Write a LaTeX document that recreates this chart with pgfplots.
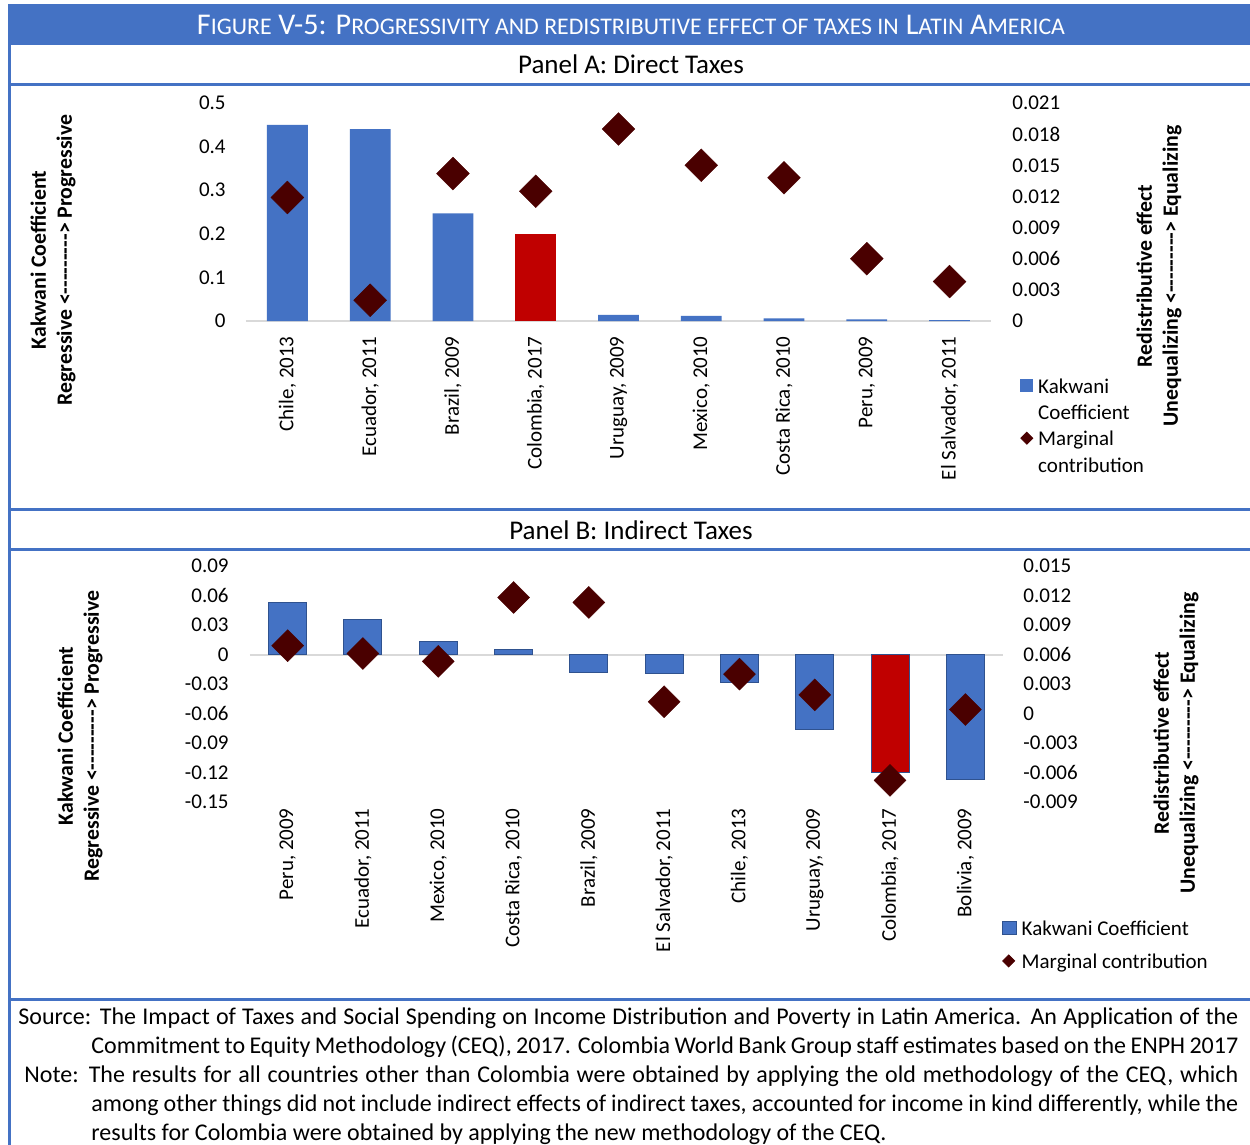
\documentclass[border=0pt]{standalone}
\usepackage{pgfplots}
\pgfplotsset{compat=1.18}
\usepackage{fontspec}
\setmainfont{Carlito}

\definecolor{kblue}{HTML}{4472C4}
\definecolor{kred}{HTML}{C00000}
\definecolor{kdiam}{HTML}{4A0000}
\definecolor{kedge}{HTML}{2F528F}
\definecolor{zeroline}{HTML}{D9D9D9}

\newcommand\tickfont{\fontsize{10.5}{13}\selectfont}
\newcommand\labfont{\fontsize{10.9}{13}\selectfont}
\newcommand\notefont{\fontsize{12}{14.5}\selectfont}
\newcommand\smc[1]{{\fontsize{8.7}{10}\selectfont #1}}
\newcommand\dashes{<{-}{-}{-}{-}{-}{-}{-}{-}{-}>}

\pgfplotsset{
  panel/.style={
    scale only axis, anchor=south west, clip=false,
    axis line style={draw=none}, major tick length=0pt,
    scaled y ticks=false,
    ticklabel style={font=\tickfont},
    yticklabel style={inner sep=0pt},
  },
  diamonds/.style={only marks, mark=square*, mark size=#1,
    mark options={rotate=45, fill=kdiam, draw=kdiam, line width=0.2pt}},
}

\begin{document}
\begin{tikzpicture}
% page coordinates: 1 unit = one pixel of a 1250 x 1145 page, y running down
\begin{scope}[x=0.5pt,y=-0.5pt]
\useasboundingbox (0,0) rectangle (1250,1145);
\fill[white] (0,0) rectangle (1250,1145);

% heading bar
\fill[kblue] (8,4) rectangle (1250,45);
\node[text=white, inner sep=0pt] at (631,25)
  {\resizebox{434pt}{!}{\fontsize{11}{13}\selectfont F\smc{IGURE} V-5: P\smc{ROGRESSIVITY AND REDISTRIBUTIVE EFFECT OF TAXES IN} L\smc{ATIN} A\smc{MERICA}}};

% frame rules
\draw[kblue, line width=1.5pt] (9.5,45) -- (9.5,1145);
\foreach \yy in {85,509,549,999}
  \draw[kblue, line width=1.5pt] (9.5,\yy) -- (1250,\yy);

\node[font=\fontsize{13.5}{15}\selectfont, inner sep=0pt] at (631,64) {Panel A: Direct Taxes};
\node[font=\fontsize{13.5}{15}\selectfont, inner sep=0pt] at (631,530) {Panel B: Indirect Taxes};

% axis titles
\node[rotate=90, align=center, font=\bfseries\labfont] at (53,260)
  {Kakwani Coefficient\\Regressive \dashes{} Progressive};
\node[rotate=90, align=center, font=\bfseries\labfont] at (1159,276)
  {Redistributive effect\\Unequalizing \dashes{} Equalizing};
\node[rotate=90, align=center, font=\bfseries\labfont] at (80,736)
  {Kakwani Coefficient\\Regressive \dashes{} Progressive};
\node[rotate=90, align=center, font=\bfseries\labfont] at (1176,743)
  {Redistributive effect\\Unequalizing \dashes{} Equalizing};

% source and note
\begin{scope}[every node/.style={anchor=base west, inner sep=0pt, font=\notefont}]
\node at (18,1024) {\makebox[610pt][s]{Source: The Impact of Taxes and Social Spending on Income Distribution and Poverty in Latin America. An Application of the}};
\node at (91,1053) {\makebox[573.5pt][s]{Commitment to Equity Methodology (CEQ), 2017. Colombia World Bank Group staff estimates based on the ENPH 2017}};
\node at (24,1082) {\makebox[607pt][s]{Note: The results for all countries other than Colombia were obtained by applying the old methodology of the CEQ, which}};
\node at (91,1111) {\makebox[573.5pt][s]{among other things did not include indirect effects of indirect taxes, accounted for income in kind differently, while the}};
\node at (91,1140) {results for Colombia were obtained by applying the new methodology of the CEQ.};
\end{scope}
\end{scope}

% ---------------- Panel A: direct taxes ----------------
\begin{axis}[panel, at={(123pt,-160.5pt)}, width=372.5pt, height=109pt,
  xmin=-0.5, xmax=8.5, ymin=0, ymax=0.5,
  ytick={0,0.1,0.2,0.3,0.4,0.5}, yticklabels={0,0.1,0.2,0.3,0.4,0.5},
  yticklabel shift=10pt,
  xtick={0,1,2,3,4,5,6,7,8},
  xticklabels={{Chile, 2013},{Ecuador, 2011},{Brazil, 2009},{Colombia, 2017},{Uruguay, 2009},{Mexico, 2010},{Costa Rica, 2010},{Peru, 2009},{El Salvador, 2011}},
  xticklabel style={rotate=90, anchor=east, inner sep=0pt}, xticklabel shift=7.5pt,
  ybar, bar width=20.4pt, bar shift=0pt]
\draw[zeroline, line width=1pt] (axis cs:-0.5,0) -- (axis cs:8.5,0);
\addplot[fill=kblue, draw=none] coordinates
  {(0,0.450) (1,0.440) (2,0.247) (4,0.014) (5,0.012) (6,0.006) (7,0.004) (8,0.002)};
\addplot[fill=kred, draw=none] coordinates {(3,0.200)};
\end{axis}

\begin{axis}[panel, at={(123pt,-160.5pt)}, width=372.5pt, height=109pt,
  xmin=-0.5, xmax=8.5, ymin=0, ymax=0.021, xtick=\empty,
  ytick={0,0.003,0.006,0.009,0.012,0.015,0.018,0.021},
  yticklabels={0,0.003,0.006,0.009,0.012,0.015,0.018,0.021},
  yticklabel pos=right, yticklabel style={anchor=west}, yticklabel shift=10.5pt,
  legend cell align=left,
  legend style={at={(axis description cs:1.039,-0.245)}, anchor=north west,
    draw=none, fill=none, inner sep=0pt, font=\tickfont,
    nodes={inner sep=0pt}, column sep=2.5pt, row sep=2.6pt}]
\addlegendimage{legend image code/.code={\fill[kblue] (0pt,-3pt) rectangle (6pt,3pt);}}
\addlegendentry{\strut Kakwani}
\addlegendimage{empty legend}
\addlegendentry{\strut Coefficient}
\addlegendimage{legend image code/.code={\fill[kdiam] (3pt,3pt) -- (6pt,0pt) -- (3pt,-3pt) -- (0pt,0pt) -- cycle;}}
\addlegendentry{\strut Marginal}
\addlegendimage{empty legend}
\addlegendentry{\strut contribution}
\addplot[diamonds=5.8pt, forget plot] coordinates
  {(0,0.0119) (1,0.0020) (2,0.0142) (3,0.0125) (4,0.0185) (5,0.0150) (6,0.0138) (7,0.0060) (8,0.0038)};
\end{axis}

% ---------------- Panel B: indirect taxes ----------------
\begin{axis}[panel, at={(125pt,-401pt)}, width=376.5pt, height=118pt,
  xmin=-0.5, xmax=9.5, ymin=-0.15, ymax=0.09,
  ytick={-0.15,-0.12,-0.09,-0.06,-0.03,0,0.03,0.06,0.09},
  yticklabels={-0.15,-0.12,-0.09,-0.06,-0.03,0,0.03,0.06,0.09},
  yticklabel shift=10.5pt,
  xtick={0,1,2,3,4,5,6,7,8,9},
  xticklabels={{Peru, 2009},{Ecuador, 2011},{Mexico, 2010},{Costa Rica, 2010},{Brazil, 2009},{El Salvador, 2011},{Chile, 2013},{Uruguay, 2009},{Colombia, 2017},{Bolivia, 2009}},
  xticklabel style={rotate=90, anchor=east, inner sep=0pt}, xticklabel shift=3pt,
  ybar, bar width=19pt, bar shift=0pt]
\draw[zeroline, line width=1pt] (axis cs:-0.5,0) -- (axis cs:9.5,0);
\addplot[fill=kblue, draw=kedge, line width=0.5pt] coordinates
  {(0,0.053) (1,0.036) (2,0.013) (3,0.005) (4,-0.018) (5,-0.019) (6,-0.028) (7,-0.076) (9,-0.127)};
\addplot[fill=kred, draw=kedge, line width=0.5pt] coordinates {(8,-0.120)};
\end{axis}

\begin{axis}[panel, at={(125pt,-401pt)}, width=376.5pt, height=118pt,
  xmin=-0.5, xmax=9.5, ymin=-0.009, ymax=0.015, xtick=\empty,
  ytick={-0.009,-0.006,-0.003,0,0.003,0.006,0.009,0.012,0.015},
  yticklabels={-0.009,-0.006,-0.003,0,0.003,0.006,0.009,0.012,0.015},
  yticklabel pos=right, yticklabel style={anchor=west}, yticklabel shift=10pt,
  legend cell align=left,
  legend style={at={(axis description cs:0.998,-0.487)}, anchor=north west,
    draw=none, fill=none, inner sep=0pt, font=\tickfont,
    nodes={inner sep=0pt}, column sep=2.5pt, row sep=5.9pt}]
\addlegendimage{legend image code/.code={\fill[kblue] (0pt,-3.2pt) rectangle (7pt,3.2pt); \draw[kedge, line width=0.4pt] (0pt,-3.2pt) rectangle (7pt,3.2pt);}}
\addlegendentry{\strut Kakwani Coefficient}
\addlegendimage{legend image code/.code={\fill[kdiam] (3.2pt,3pt) -- (6.2pt,0pt) -- (3.2pt,-3pt) -- (0.2pt,0pt) -- cycle;}}
\addlegendentry{\strut Marginal contribution}
\addplot[diamonds=5.65pt, forget plot] coordinates
  {(0,0.0069) (1,0.0061) (2,0.0053) (3,0.0118) (4,0.0113) (5,0.0012) (6,0.0040) (7,0.0019) (8,-0.0068) (9,0.0004)};
\end{axis}
\end{tikzpicture}
\end{document}
